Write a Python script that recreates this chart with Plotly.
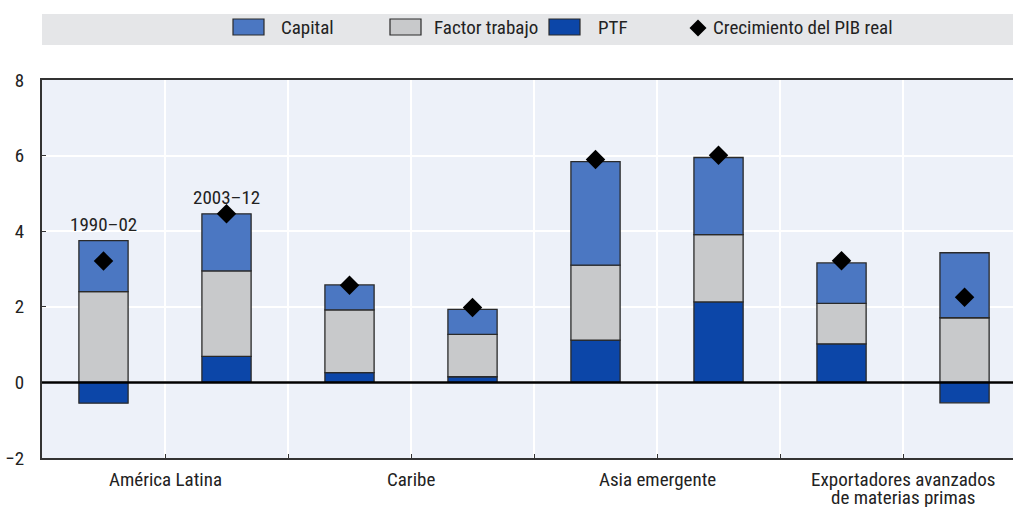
import plotly.graph_objects as go

# Contribuciones al crecimiento del PIB real (puntos porcentuales)
periodos = ["1990–02", "2003–12"] * 4
grupos = ["América Latina", "Caribe", "Asia emergente",
          "Exportadores avanzados<br>de materias primas"]
ptf = [-0.55, 0.69, 0.26, 0.15, 1.12, 2.13, 1.02, -0.54]
trabajo = [2.40, 2.26, 1.66, 1.12, 1.98, 1.78, 1.07, 1.71]
capital = [1.35, 1.51, 0.66, 0.66, 2.74, 2.04, 1.07, 1.72]
pib = [3.21, 4.46, 2.57, 1.98, 5.90, 6.01, 3.22, 2.25]

x = list(range(len(ptf)))
font = "Liberation Sans Narrow, Arial Narrow, Roboto Condensed, Roboto, sans-serif"
borde = dict(color="#2a2a2a", width=1.3)
c_capital, c_trabajo, c_ptf = "#4b77c2", "#c8c9cb", "#0c46a8"

# area del grafico en pixeles (para pasar a coordenadas "paper")
L, R, T, B = 42, 1013, 80, 458
def px(v):
    return (v - L) / (R - L)
def py(v):
    return (B - v) / (B - T)

fig = go.Figure()
fig.add_trace(go.Bar(x=x, y=ptf, name="PTF", marker=dict(color=c_ptf, line=borde), width=0.4))
fig.add_trace(go.Bar(x=x, y=trabajo, name="Factor trabajo", marker=dict(color=c_trabajo, line=borde), width=0.4))
fig.add_trace(go.Bar(x=x, y=capital, name="Capital", marker=dict(color=c_capital, line=borde), width=0.4))
fig.add_trace(go.Scatter(x=x, y=pib, mode="markers", name="Crecimiento del PIB real",
                         marker=dict(symbol="diamond", size=15, color="black")))

# etiquetas de periodo sobre las dos primeras barras
for i in range(2):
    tope = max(ptf[i], 0) + trabajo[i] + capital[i]
    fig.add_annotation(x=x[i], y=tope, text=periodos[i], showarrow=False,
                       yanchor="bottom", yshift=3, font=dict(size=19, color="#222"))

# banda gris de la leyenda y linea del cero
fig.add_shape(type="rect", xref="paper", yref="paper", x0=0, x1=1.02, y0=py(45), y1=py(14),
              fillcolor="#e5e6e8", line=dict(width=0), layer="below")
fig.add_shape(type="line", xref="paper", yref="y", x0=0, x1=1.02, y0=0, y1=0,
              line=dict(color="black", width=2.5), layer="above")

# leyenda dibujada a mano (cajas de 31x16 px)
items = [("Capital", c_capital, 233, 279), ("Factor trabajo", c_trabajo, 390, 432),
         ("PTF", c_ptf, 549, 596)]
for nombre, color, x0, xt in items:
    fig.add_shape(type="rect", xref="paper", yref="paper", x0=px(x0), x1=px(x0 + 31),
                  y0=py(35), y1=py(19), fillcolor=color, line=dict(color="#2a2a2a", width=1.2))
    fig.add_annotation(xref="paper", yref="paper", x=px(xt), y=py(28), text=nombre,
                       showarrow=False, xanchor="left", yanchor="middle", font=dict(size=19))
cx, cy, h = 698, 28, 8.5
rombo = "M{},{} L{},{} L{},{} L{},{} Z".format(px(cx - h), py(cy), px(cx), py(cy - h),
                                             px(cx + h), py(cy), px(cx), py(cy + h))
fig.add_shape(type="path", xref="paper", yref="paper", path=rombo,
              fillcolor="black", line=dict(width=0))
fig.add_annotation(xref="paper", yref="paper", x=px(711), y=py(28), text="Crecimiento del PIB real",
                   showarrow=False, xanchor="left", yanchor="middle", font=dict(size=19))

# nombres de grupo bajo el eje, centrados entre las dos barras de cada grupo
for g, nombre in enumerate(grupos):
    for k, linea in enumerate(nombre.split("<br>")):
        fig.add_annotation(x=2 * g + 0.5, xref="x", yref="paper", y=py(479 + 18 * k),
                           text=linea, showarrow=False, yanchor="middle", borderpad=0,
                           font=dict(size=19))

tickvals = [i + 0.5 for i in range(len(ptf) - 1)]

fig.update_layout(
    width=1013, height=507,
    margin=dict(l=L, r=1013 - R, t=T, b=507 - B),
    barmode="relative",
    plot_bgcolor="#edf1f9", paper_bgcolor="white",
    font=dict(family=font, size=19, color="#222"),
    showlegend=False,
    xaxis=dict(range=[-0.5, 7.394], tickvals=tickvals, showticklabels=False, automargin=False,
               showgrid=True, gridcolor="white", gridwidth=1.5,
               ticks="inside", ticklen=4, tickcolor="#333",
               showline=True, linecolor="#333", linewidth=2, mirror=True, zeroline=False),
    yaxis=dict(range=[-2, 8], dtick=2, showgrid=True, gridcolor="white", gridwidth=1.5,
               showline=True, linecolor="#333", linewidth=2, zeroline=False, automargin=False,
               ticks="inside", ticklen=4, tickcolor="#333", ticklabelstandoff=12,
               tickfont=dict(size=19)),
)

fig.write_html("out.html", config={"displayModeBar": False},
               post_script="document.body.style.margin='0';")
